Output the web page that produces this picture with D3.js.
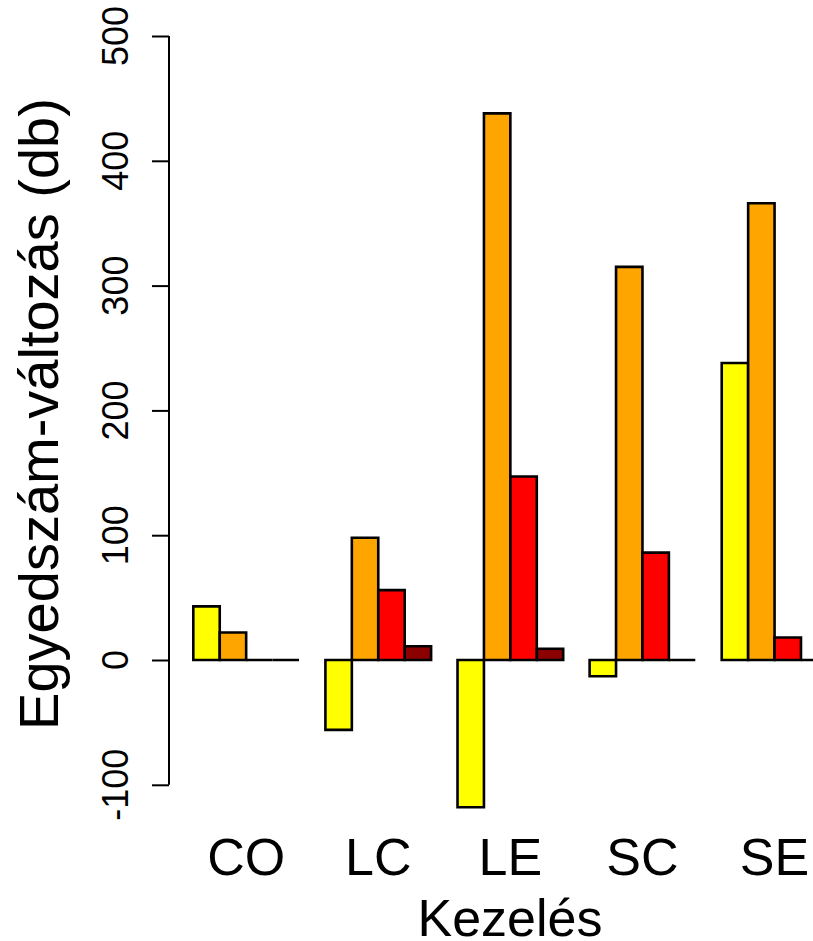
<!DOCTYPE html>
<html><head><meta charset="utf-8">
<script src="https://cdn.jsdelivr.net/npm/d3@7"></script>
<style>html,body{margin:0;padding:0;background:#fff;overflow:hidden}svg{display:block}text{font-family:"Liberation Sans",Arial,sans-serif;fill:#000}</style>
</head><body>
<script>
const categories = ["CO","LC","LE","SC","SE"];
const yellowVals = [43, -56, -118, -13, 238];
const orangeVals = [22, 98, 438, 315, 366];
const redVals = [0, 56, 147, 86, 18];
const darkredVals = [0, 11, 9, 0, 0];
const seriesColors = ["#FFFF00","#FFA500","#FF0000","#8B0000"];
const yTicks = [-100, 0, 100, 200, 300, 400, 500];
const xTitle = "Kezelés";
const yTitle = "Egyedszám-változás (db)";

const W = 813, H = 941;
const svg = d3.select("body").append("svg").attr("width", W).attr("height", H);

const series = [yellowVals, orangeVals, redVals, darkredVals];
// bar units: group i starts at 1 + 5*i, bar width 1
const x = d3.scaleLinear().domain([0, 25]).range([166.9, 827.4]);
const y = d3.scaleLinear().domain([-100, 500]).range([784.8, 36]);

const bars = [];
categories.forEach((c, i) => {
  series.forEach((s, j) => {
    bars.push({cat: c, v: s[i], u: 1 + 5 * i + j, col: seriesColors[j]});
  });
});

svg.append("g").selectAll("path").data(bars).join("path")
  .attr("d", d => {
    const x0 = x(d.u), x1 = x(d.u + 1), y0 = y(0), y1 = y(d.v);
    return `M${x0},${y0}H${x1}V${y1}H${x0}Z`;
  })
  .attr("fill", d => d.col)
  .attr("stroke", "#000")
  .attr("stroke-width", 2.6)
  .attr("stroke-linejoin", "miter");

// y axis
const axisX = 169;
const ax = svg.append("g").attr("transform", `translate(${axisX},0)`)
  .call(d3.axisLeft(y).tickValues(yTicks).tickSize(17).tickFormat(""));
ax.select(".domain").attr("d", `M0,${y(-100)}V${y(500)}`).attr("stroke-width", 2);
ax.selectAll(".tick line").attr("stroke-width", 2);

svg.append("g").selectAll("text").data(yTicks).join("text")
  .attr("transform", d => `translate(128,${y(d)}) rotate(-90)`)
  .attr("text-anchor", "middle")
  .attr("font-size", 36)
  .text(d => d);

// group labels
svg.append("g").selectAll("text").data(categories).join("text")
  .attr("x", (d, i) => x(1 + 5 * i + 2))
  .attr("y", 875)
  .attr("text-anchor", "middle")
  .attr("font-size", 52)
  .text(d => d);

svg.append("text").attr("x", 510).attr("y", 936).attr("text-anchor", "middle")
  .attr("font-size", 52).text(xTitle);

svg.append("text").attr("transform", `translate(58,414) rotate(-90)`)
  .attr("text-anchor", "middle").attr("font-size", 56).text(yTitle);
</script>
</body></html>
